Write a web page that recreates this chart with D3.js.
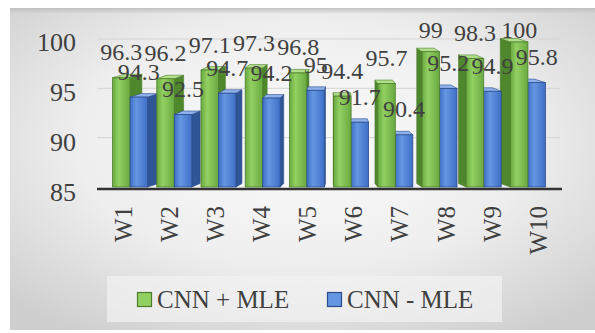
<!DOCTYPE html>
<html>
<head>
<meta charset="utf-8">
<script src="https://cdn.jsdelivr.net/npm/d3@7"></script>
<style>
  html, body { margin: 0; padding: 0; background: #ffffff; }
  svg { display: block; }
</style>
</head>
<body>
<svg id="chart" width="595" height="333"></svg>
<script>
// ---- data ----
const categories = ["W1", "W2", "W3", "W4", "W5", "W6", "W7", "W8", "W9", "W10"];
const seriesNames = ["CNN + MLE", "CNN - MLE"];
const withMLE    = [96.3, 96.2, 97.1, 97.3, 96.8, 94.4, 95.7, 99, 98.3, 100];
const withoutMLE = [94.3, 92.5, 94.7, 94.2, 95, 91.7, 90.4, 95.2, 94.9, 95.8];
const yTicks = [85, 90, 95, 100];

// ---- styling ----
const FONT = '"Liberation Serif"';
const TEXT_COLOR = "#404040";
const palette = {
  "CNN + MLE": { light: "#93d062", dark: "#69a93f", side: "#4f872d", top: "#b3df8c", stroke: "#4c7f2c" },
  "CNN - MLE": { light: "#6596e2", dark: "#3f6fc6", side: "#2f5597", top: "#8fb2ec", stroke: "#2b4d8c" }
};
const styleText = sel => sel.style("font-family", FONT).style("fill", TEXT_COLOR);

const svg = d3.select("#chart");
const defs = svg.append("defs");

// panel background: light centre fading to grey edges
const bg = defs.append("radialGradient").attr("id", "panelBg")
  .attr("cx", "50%").attr("cy", "42%").attr("r", "70%");
bg.append("stop").attr("offset", "0%").attr("stop-color", "#fbfbfb");
bg.append("stop").attr("offset", "55%").attr("stop-color", "#eeeeee");
bg.append("stop").attr("offset", "100%").attr("stop-color", "#cfcfcf");

const topShade = defs.append("linearGradient").attr("id", "topShade")
  .attr("x1", 0).attr("y1", 0).attr("x2", 0).attr("y2", 1);
topShade.append("stop").attr("offset", "0%").attr("stop-color", "#bdbdbd").attr("stop-opacity", 0.9);
topShade.append("stop").attr("offset", "100%").attr("stop-color", "#bdbdbd").attr("stop-opacity", 0);

seriesNames.forEach((s, i) => {
  const g = defs.append("linearGradient").attr("id", "front" + i)
    .attr("x1", 0).attr("y1", 0).attr("x2", 1).attr("y2", 0);
  g.append("stop").attr("offset", "0%").attr("stop-color", palette[s].dark);
  g.append("stop").attr("offset", "35%").attr("stop-color", palette[s].light);
  g.append("stop").attr("offset", "100%").attr("stop-color", palette[s].dark);
});

svg.append("rect").attr("x", 10).attr("y", 8).attr("width", 585).attr("height", 322)
  .attr("fill", "url(#panelBg)");
svg.append("rect").attr("x", 10).attr("y", 8).attr("width", 585).attr("height", 6)
  .attr("fill", "url(#topShade)");

// ---- scales ----
const xBars = d3.scaleBand().domain(categories).range([108, 550]);
const xSeries = d3.scaleBand().domain(seriesNames).range([-17.5, 17.5]);
const xLabels = d3.scaleBand().domain(categories).range([100, 561]);
const yBar = d3.scaleLinear().domain([85, 100]).range([187, 42]);
const yWall = d3.scaleLinear().domain([85, 100]).range([187, 39]);
const yLabel = d3.scaleLinear().domain([85, 100]).range([192, 42]);

// back-wall gridlines
svg.append("g").selectAll("line").data(yTicks.filter(t => t > 85)).join("line")
  .attr("x1", 97).attr("x2", 560)
  .attr("y1", d => yWall(d)).attr("y2", d => yWall(d))
  .attr("stroke", "#d4d4d4").attr("stroke-width", 1);

// y axis labels
const yAxis = svg.append("g").attr("transform", "translate(76,0)")
  .call(d3.axisLeft(yLabel).tickValues(yTicks).tickSize(0).tickPadding(0).tickFormat(d3.format("d")));
yAxis.select(".domain").remove();
yAxis.selectAll("text").attr("font-size", 26).call(styleText);

// ---- 3D columns ----
const vanishX = 335, depthK = 0.055, depthY = 3.5;
const base = yBar(85);
const bars = [];
categories.forEach((c, i) => {
  seriesNames.forEach((s, j) => {
    const v = j === 0 ? withMLE[i] : withoutMLE[i];
    const x0 = xBars(c) + xBars.bandwidth() / 2 + xSeries(s);
    const x1 = x0 + xSeries.bandwidth();
    const cx = (x0 + x1) / 2;
    bars.push({ c, s, j, v, x0, x1, cx, top: yBar(v), dx: (vanishX - cx) * depthK });
  });
});
// paint farthest-from-centre columns first so nearer ones overlap their side faces
bars.sort((a, b) => Math.abs(b.cx - vanishX) - Math.abs(a.cx - vanishX));

const barG = svg.append("g");
bars.forEach(b => {
  const g = barG.append("g");
  const p = palette[b.s];
  const edge = b.dx >= 0 ? b.x1 : b.x0;
  g.append("polygon")
    .attr("points", [[edge, b.top], [edge + b.dx, b.top - depthY], [edge + b.dx, base - depthY], [edge, base]].join(" "))
    .attr("fill", p.side).attr("stroke", p.stroke).attr("stroke-width", 0.6);
  g.append("polygon")
    .attr("points", [[b.x0, b.top], [b.x1, b.top], [b.x1 + b.dx, b.top - depthY], [b.x0 + b.dx, b.top - depthY]].join(" "))
    .attr("fill", p.top).attr("stroke", p.stroke).attr("stroke-width", 0.6);
  g.append("rect")
    .attr("x", b.x0).attr("y", b.top).attr("width", b.x1 - b.x0).attr("height", base - b.top)
    .attr("fill", "url(#front" + b.j + ")").attr("stroke", p.stroke).attr("stroke-width", 0.8);
});

// floor edge / category axis
svg.append("line").attr("x1", 97).attr("x2", 562).attr("y1", 189).attr("y2", 189)
  .attr("stroke", "#333333").attr("stroke-width", 2.5);

// x axis labels (rotated)
const xAxis = svg.append("g").attr("transform", "translate(0,206)")
  .call(d3.axisBottom(xLabels).tickSize(0));
xAxis.select(".domain").remove();
xAxis.selectAll("text")
  .attr("transform", "rotate(-90)").attr("x", 0).attr("y", 0).attr("dy", "0.35em")
  .attr("text-anchor", "end").attr("font-size", 25).call(styleText);

// value labels
const labelG = svg.append("g");
bars.slice().sort((a, b) => a.cx - b.cx).forEach(b => {
  labelG.append("text")
    .attr("x", b.cx).attr("y", Math.max(b.top - 17.5, 38))
    .attr("text-anchor", "middle").attr("font-size", 24)
    .call(styleText)
    .text(b.v);
});

// ---- legend ----
svg.append("rect").attr("x", 107).attr("y", 276).attr("width", 395).attr("height", 46)
  .attr("fill", "#f2f2f2").attr("opacity", 0.7);
const legendX = [137, 327];
const legend = svg.append("g").selectAll("g").data(seriesNames).join("g")
  .attr("transform", (d, i) => `translate(${legendX[i]},292)`);
legend.append("rect").attr("x", 0.5).attr("y", 0.5).attr("width", 14).attr("height", 14)
  .attr("fill", d => palette[d].light).attr("stroke", d => palette[d].stroke).attr("stroke-width", 1.2);
legend.append("text").attr("x", 20).attr("y", 16).attr("font-size", 25).call(styleText).text(d => d);
</script>
</body>
</html>
